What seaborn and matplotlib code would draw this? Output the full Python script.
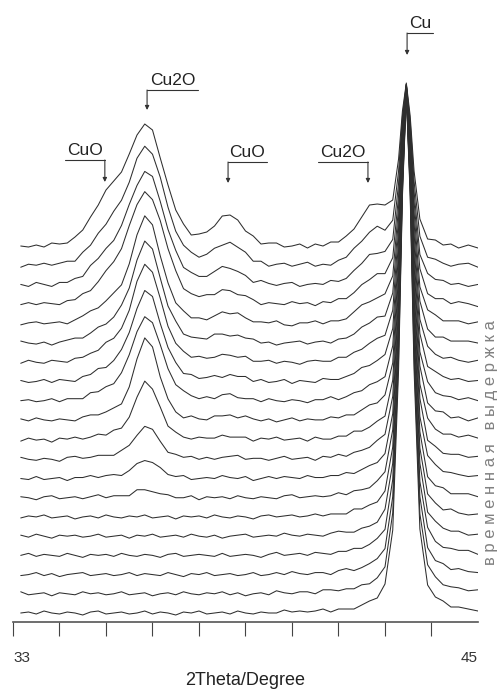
import matplotlib
matplotlib.use('Agg')
import pandas as pd
import matplotlib.pyplot as plt
import seaborn as sns

# 2Theta grid (degrees) of the digitised scans
two_theta = [33.2, 33.4, 33.6, 33.8, 34.0, 34.2, 34.4, 34.6, 34.8, 35.0,
             35.2, 35.4, 35.6, 35.8, 36.0, 36.2, 36.4, 36.6, 36.8, 37.0,
             37.2, 37.4, 37.6, 37.8, 38.0, 38.2, 38.4, 38.6, 38.8, 39.0,
             39.2, 39.4, 39.6, 39.8, 40.0, 40.2, 40.4, 40.6, 40.8, 41.0,
             41.2, 41.4, 41.6, 41.8, 42.0, 42.2, 42.4, 42.6, 42.8, 42.95,
             43.05, 43.15, 43.25, 43.35, 43.5, 43.7, 43.9, 44.1, 44.3, 44.5,
             44.75, 45.0]

# intensities, bottom scan (scan_01) to top scan (scan_20)
scan_01 = [0, 1, -1, 2, 0, -1, 1, 0, -2, 1, 2, -1, 0, 1, -1, 0, 2, -1, 1, 0,
           -2, 1, 0, 2, -1, 0, 1, -1, 2, 0, -1, 1, 0, 0, 3, 1, 2, 1, 2, 4,
           1, 4, 4, 4, 8, 12, 15, 29, 83, 243, 417, 518, 417, 243, 84, 28, 16, 12, 6, 6,
           4, 2]
scan_02 = [2, -1, 0, 1, -2, 1, 0, -1, 2, 0, 1, -1, 0, 2, -1, 0, 1, -2, 0, 1,
           -1, 2, 0, -1, 1, 0, 2, -1, 1, -2, 0, 1, -1, 3, 1, 0, 2, 2, 0, 4,
           4, 3, 5, 5, 9, 10, 16, 27, 81, 235, 402, 500, 402, 235, 80, 29, 17, 9, 7, 6,
           3, 4]
scan_03 = [-1, 0, 2, -1, 1, -2, 0, 1, 2, -1, 0, 1, -1, 0, 2, -1, 1, 0, -1, 2,
           0, -2, 1, 0, 2, -1, 0, 1, -1, 0, 2, -1, 0, 2, 0, 3, 1, 0, 2, 2,
           0, 4, 6, 4, 7, 11, 16, 26, 78, 227, 388, 482, 388, 226, 78, 27, 14, 11, 5, 6,
           3, 2]
scan_04 = [0, 2, -1, 1, 0, -1, 2, 0, -2, 1, 0, 1, -1, 2, 0, -1, 1, 0, -2, 1,
           2, -1, 0, 1, 0, -1, 2, -1, 0, 1, 0, -2, 1, 3, 0, 1, 2, 0, 3, 2,
           1, 4, 4, 7, 7, 11, 17, 26, 76, 218, 372, 462, 372, 217, 74, 28, 14, 8, 7, 5,
           5, 1]
scan_05 = [1, -1, 2, 0, -2, 1, 0, 1, -1, 0, 2, -1, 0, 1, -2, 1, 0, 2, -1, 0,
           1, -1, 2, 0, -1, 1, -2, 0, 1, 2, -1, 0, 1, 0, 3, 1, 0, 2, 1, 0,
           3, 5, 4, 4, 8, 10, 14, 27, 73, 209, 358, 444, 357, 208, 73, 24, 15, 8, 5, 5,
           1, 2]
scan_06 = [-1, 1, 0, 2, -1, 0, 1, -2, 0, 1, -1, 2, 0, -1, 1, 0, 2, -1, 0, 1,
           -2, 1, 0, 1, -1, 2, 0, -1, 1, 0, -2, 1, 2, 0, 1, 2, 0, 1, 3, 1,
           3, 3, 3, 8, 8, 12, 15, 26, 70, 200, 342, 426, 342, 200, 69, 23, 14, 7, 8, 4,
           2, 3]
scan_07 = [1, 0, -2, 1, 2, -1, 0, 1, -1, 1, 3, 0, 2, 2, 2, 8, 8, 6, 4, 3,
           0, 0, 2, -2, 1, 0, 1, -1, 2, 0, -1, 1, 0, -1, 2, 3, 0, 1, 2, 1,
           2, 5, 3, 7, 8, 10, 17, 26, 68, 192, 328, 407, 327, 191, 66, 21, 12, 10, 4, 4,
           4, 1]
scan_08 = [0, -1, 2, -1, 0, 1, -2, 1, 1, 3, 1, 3, 4, 3, 8, 15, 18, 16, 11, 4,
           2, 3, -1, 0, 1, 0, 3, 1, 0, 2, -2, 0, 2, 0, 2, 1, 0, 3, 1, 1,
           3, 3, 6, 5, 9, 13, 16, 25, 65, 183, 313, 388, 312, 182, 62, 23, 14, 7, 6, 4,
           2, 3]
scan_09 = [2, 0, -1, 1, 0, -2, 2, 3, 1, 2, 4, 4, 4, 9, 14, 24, 33, 30, 18, 7,
           5, 2, 3, 0, 2, 0, 2, 3, 4, 0, 1, 1, -1, 1, 3, 0, 1, 2, -1, 3,
           2, 5, 3, 7, 9, 12, 19, 25, 63, 175, 298, 369, 297, 173, 61, 19, 13, 6, 5, 5,
           2, 3]
scan_10 = [-1, 2, 0, 1, -2, 2, 1, 3, 1, 3, 6, 5, 10, 12, 23, 43, 59, 51, 33, 14,
           8, 3, 1, 3, 2, 2, 5, 3, 3, 3, -1, 2, 1, 3, 0, 1, 2, -1, 3, 1,
           1, 4, 4, 9, 9, 13, 19, 24, 60, 167, 283, 351, 282, 165, 56, 22, 11, 6, 6, 3,
           5, 2]
scan_11 = [2, 0, 3, 1, 0, 2, 1, 0, 4, 6, 6, 9, 13, 17, 34, 62, 83, 74, 44, 22,
           9, 3, 5, 2, 1, 5, 5, 6, 3, 5, 2, 0, 2, -1, 1, 3, 0, 2, 1, 1,
           4, 3, 6, 6, 11, 16, 18, 26, 58, 159, 269, 333, 267, 156, 55, 18, 10, 9, 3, 4,
           0, 3]
scan_12 = [1, 2, 0, 1, 3, 0, 3, 3, 3, 9, 10, 15, 18, 29, 47, 70, 85, 79, 57, 33,
           17, 11, 6, 3, 5, 3, 7, 8, 4, 3, 3, 0, 3, 1, 0, 2, 1, -1, 2, 2,
           5, 2, 5, 9, 11, 17, 20, 25, 56, 150, 254, 314, 252, 147, 50, 20, 9, 6, 5, 2,
           4, 1]
scan_13 = [2, 0, 1, 3, 0, 3, 2, 1, 6, 8, 14, 15, 22, 33, 50, 74, 92, 86, 59, 35,
           20, 9, 8, 4, 5, 7, 5, 8, 6, 6, 1, 3, 0, 1, 3, -1, 2, 1, 0, 4,
           3, 3, 6, 9, 15, 17, 22, 28, 54, 142, 239, 295, 237, 138, 49, 16, 11, 6, 3, 4,
           1, 2]
scan_14 = [0, 3, 1, 0, 3, 2, 1, 5, 6, 10, 13, 21, 25, 35, 53, 82, 99, 91, 65, 37,
           20, 12, 6, 7, 5, 6, 9, 8, 6, 7, 2, 2, 3, 0, 2, 1, -1, 2, 3, 2,
           2, 6, 6, 11, 14, 20, 25, 28, 53, 134, 224, 276, 222, 130, 44, 17, 9, 5, 6, 3,
           1, 3]
scan_15 = [3, 1, 0, 2, -1, 2, 4, 6, 6, 11, 17, 20, 27, 39, 56, 84, 103, 95, 66, 38,
           23, 10, 7, 6, 5, 10, 10, 8, 9, 6, 5, 1, 2, -1, 1, 2, 3, 0, 2, 3,
           1, 5, 6, 10, 17, 21, 27, 28, 51, 126, 210, 258, 208, 121, 43, 15, 7, 7, 3, 3,
           3, 1]
scan_16 = [0, 2, 3, 1, 2, 3, 1, 5, 9, 14, 17, 24, 32, 40, 61, 90, 109, 100, 69, 42,
           22, 14, 7, 7, 5, 9, 13, 11, 12, 7, 3, 3, 2, 4, 0, -1, 2, 2, 4, 1,
           4, 4, 6, 13, 20, 23, 27, 31, 49, 118, 195, 240, 193, 113, 38, 15, 10, 4, 4, 4,
           1, 3]
scan_17 = [1, 3, 1, 3, 2, 1, 5, 6, 12, 15, 24, 35, 44, 57, 80, 101, 114, 106, 85, 57,
           35, 17, 12, 9, 11, 11, 16, 15, 11, 10, 6, 1, 3, 2, 1, 4, 2, 3, 0, 4,
           3, 7, 7, 13, 21, 26, 32, 32, 48, 110, 180, 221, 177, 104, 37, 12, 7, 7, 2, 4,
           2, -1]
scan_18 = [2, 0, 4, 2, 0, 4, 4, 8, 10, 21, 28, 38, 46, 61, 82, 101, 115, 110, 85, 57,
           36, 19, 14, 10, 10, 15, 20, 18, 15, 11, 4, 6, 3, 1, 3, 4, 0, 2, 3, 2,
           6, 5, 8, 16, 23, 32, 33, 35, 47, 103, 166, 202, 162, 95, 32, 13, 7, 6, 2, 3,
           0, 2]
scan_19 = [0, 3, 2, 4, 2, 4, 6, 6, 15, 22, 34, 43, 56, 67, 85, 109, 121, 113, 90, 60,
           36, 22, 15, 10, 13, 19, 22, 25, 20, 15, 6, 6, 1, 3, 4, 1, 3, 5, 1, 3,
           2, 7, 10, 19, 26, 35, 41, 37, 47, 96, 151, 183, 146, 86, 31, 10, 8, 4, 1, 3,
           4, 0]
scan_20 = [2, 1, 3, 1, 5, 4, 5, 11, 18, 31, 43, 58, 67, 76, 94, 113, 124, 118, 90, 63,
           38, 24, 13, 14, 16, 22, 32, 33, 28, 17, 12, 4, 5, 5, 1, 2, 4, 0, 4, 2,
           6, 6, 12, 19, 31, 43, 44, 43, 48, 89, 137, 165, 132, 77, 29, 9, 8, 3, 4, 0,
           3, 0]

scans = [scan_01, scan_02, scan_03, scan_04, scan_05, scan_06, scan_07,
         scan_08, scan_09, scan_10, scan_11, scan_12, scan_13, scan_14,
         scan_15, scan_16, scan_17, scan_18, scan_19, scan_20]

# phase labels and the 2Theta they point at
peak_names = ['CuO', 'Cu2O', 'CuO', 'Cu2O', 'Cu']
peak_2theta = [35.37, 36.46, 38.55, 42.16, 43.17]

# bracket layout (y in plot units, length in degrees, sign = side of the bar)
arrow_tip = [431, 503, 430, 430, 558]
bar_level = [453, 523, 451, 451, 580]
bar_len = [-1.03, 1.32, 1.0, -1.29, 0.67]

sns.set_theme(style='white')
plt.rcParams['font.family'] = ['Liberation Sans', 'DejaVu Sans']

step = 19.21  # vertical shift between successive scans
rows = []
for i, s in enumerate(scans):
    for x, y in zip(two_theta, s):
        rows.append({'two_theta': x, 'counts': y + i * step, 'scan': i})
df = pd.DataFrame(rows)

fig = plt.figure(figsize=(4.99, 6.92), dpi=100)
ax = fig.add_axes([13 / 499, 70 / 692, 465 / 499, 622 / 692])

sns.lineplot(data=df, x='two_theta', y='counts', units='scan',
             estimator=None, sort=False, color='#2e2e2e', lw=0.75, ax=ax)

ax.set_xlim(33, 45)
ax.set_ylim(-9, 613)

# phase markers
for name, x, tip, bar, ln in zip(peak_names, peak_2theta, arrow_tip, bar_level, bar_len):
    ax.plot([x, x + ln], [bar, bar], color='#333333', lw=0.8)
    ax.annotate('', xy=(x, tip), xytext=(x, bar),
                arrowprops=dict(arrowstyle='-|>', color='#333333', lw=0.8,
                                mutation_scale=6, shrinkA=0, shrinkB=0))
    ax.text(x + ln / 2, bar + 5, name, ha='center', va='baseline',
            fontsize=12.5, color='#222222')

# x axis: ticks every 1.2 deg, only the ends labelled
ticks = [33 + 1.2 * k for k in range(10)] + [45]
labels = ['33'] + [''] * 9 + ['45']
ax.set_xticks(ticks, labels)
ax.tick_params(axis='x', direction='out', length=10, width=0.8, color='#444444',
               pad=11, labelsize=11, labelcolor='#333333', bottom=True)
ax.xaxis.get_major_ticks()[-1].tick1line.set_visible(False)
tl = ax.get_xticklabels()
tl[0].set_ha('left')
tl[-1].set_ha('right')
ax.set_yticks([])
ax.set_xlabel('2Theta/Degree', fontsize=13, color='#222222', labelpad=5)
ax.set_ylabel('')

for side in ['top', 'left', 'right']:
    ax.spines[side].set_visible(False)
ax.spines['bottom'].set_color('#555555')
ax.spines['bottom'].set_linewidth(1.2)

fig.text(0.982, 0.361, 'в р е м е н н а я   в ы д е р ж к а', rotation=90,
         ha='center', va='center', fontsize=12, color='#808080')

fig.savefig('out.png', dpi=100)
